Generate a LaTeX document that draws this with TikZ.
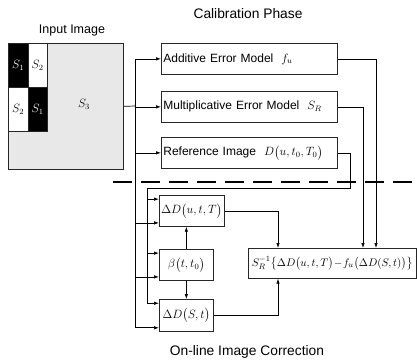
\documentclass[tikz,border=0pt]{standalone}
\usepackage{fontspec}
\setmainfont{Liberation Sans}
\usepackage{amsmath}
\usetikzlibrary{arrows.meta, calc, positioning}

\begin{document}
\begin{tikzpicture}[x=1pt, y=-1pt, line width=0.7pt,
	box/.style={draw=black!85, inner sep=2pt, anchor=north west, font=\fontsize{12}{14}\selectfont},
	calbox/.style={box, minimum height=31pt, text width=172pt, align=left},
	smallbox/.style={box, minimum height=31pt, minimum width=54pt},
	cell/.style={draw=black!85, anchor=north west, inner sep=0pt, minimum width=19.5pt, minimum height=44pt, font=\fontsize{12}{14}\selectfont},
	arr/.style={-{Latex[length=5pt,width=3.5pt]}},
	title/.style={font=\fontsize{13.8}{16}\selectfont}]
	\useasboundingbox (0,0) rectangle (417,360);

	% input image
	\node[draw=black!85, fill=gray!18, anchor=north west, inner sep=0pt, minimum width=115pt, minimum height=126pt] (img) at (8,43) {};
	\node[cell, fill=black, text=white] (s1a) at (8,43) {$S_1$};
	\node[cell, fill=white] (s2a) at (27.5,43) {$S_2$};
	\node[cell, fill=white] (s2b) at (8,87) {$S_2$};
	\node[cell, fill=black, text=white] (s1b) at (27.5,87) {$S_1$};
	\node[font=\fontsize{12}{14}\selectfont] (s3) at (84,104) {$S_3$};
	\node[font=\fontsize{12.5}{15}\selectfont] (input) at (72,30) {Input Image};

	% calibration
	\node[title] (calib) at (248,14) {Calibration Phase};
	\node[calbox] (add) at (161,43) {Additive Error Model\ \ $f_u$};
	\node[calbox] (mult) at (161,91) {Multiplicative Error Model\ \ $S_R$};
	\node[calbox] (ref) at (161,137) {Reference Image\ \ $D\bigl(u,t_0,T_0\bigr)$};

	\draw[line width=2.2pt, dash pattern=on 19pt off 9pt] (113,182) coordinate (cut) -- (417,182) coordinate (cutend);

	% on-line correction
	\node[smallbox, minimum width=63pt] (dU) at (159,195) {$\Delta D\bigl(u,t,T\bigr)$};
	\node[smallbox] (beta) at (159,249) {$\beta\bigl(t,t_0\bigr)$};
	\node[smallbox, minimum height=32pt] (dS) at (159,299) {$\Delta D\bigl(S,t\bigr)$};
	\node[box, minimum width=168pt, minimum height=30pt, inner sep=1pt, font=\fontsize{11}{13}\selectfont] (big) at (248,248) {$\medmuskip=1mu S_R^{-1}\bigl\{\Delta D\bigl(u,t,T\bigr)-f_u\bigl(\Delta D(S,t)\bigr)\bigr\}$};
	\node[title] (online) at (247,352) {On-line Image Correction};

	\coordinate (bus) at (135,106);
	\coordinate (inner) at (147,188);
	\coordinate (ret) at (350,188);
	\coordinate (colA) at (278,0);
	\coordinate (colB) at (363,0);
	\coordinate (colC) at (376,0);

	\draw (img.east) -- (bus);
	\draw[arr] (bus |- add.west) -- (add.west);
	\draw[arr] (bus |- mult.west) -- (mult.west);
	\draw[arr] (bus |- ref.west) -- (ref.west);
	\draw (ref.east) -| (ret) -- (inner);

	\foreach \b in {dU, beta, dS} {
		\coordinate (\b-hi) at ($(\b.north west)!0.13!(\b.south west)$);
		\coordinate (\b-lo) at ($(\b.north west)!0.88!(\b.south west)$);
		\draw[arr] (inner |- \b-hi) -- (\b-hi);
		\draw[arr] (bus |- \b-lo) -- (\b-lo);
	}
	\draw (bus |- add.west) -- (bus |- dS-lo);
	\draw (inner) -- (inner |- dS-hi);

	\draw[arr] (beta.north) -- (beta.north |- dU.south);
	\draw[arr] (beta.south) -- (dS.north);

	\draw[arr] (dU.east) -| (colA |- big.north);
	\draw[arr] (dS.east) -| (colA |- big.south);
	\draw[arr] (mult.east) -| (colB |- big.north);
	\draw[arr] (add.east) -| (colC |- big.north);
\end{tikzpicture}
\end{document}
